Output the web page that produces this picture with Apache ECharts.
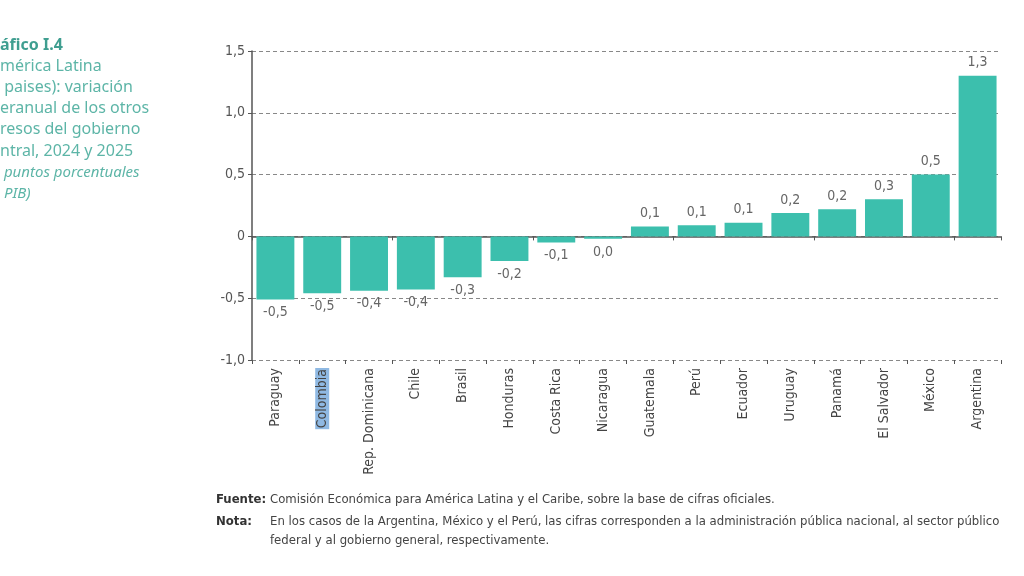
<!DOCTYPE html>
<html>
<head>
<meta charset="utf-8">
<script src="https://cdn.jsdelivr.net/npm/echarts@6/dist/echarts.min.js"></script>
<style>
  html, body { margin: 0; padding: 0; background: #fff; }
  #chart { width: 1024px; height: 576px; }
</style>
</head>
<body>
<div id="chart"></div>
<script>
  // datos
  const paises = ['Paraguay', 'Colombia', 'Rep. Dominicana', 'Chile', 'Brasil', 'Honduras', 'Costa Rica', 'Nicaragua',
    'Guatemala', 'Perú', 'Ecuador', 'Uruguay', 'Panamá', 'El Salvador', 'México', 'Argentina']
  const variacion = [-0.51, -0.46, -0.44, -0.43, -0.33, -0.2, -0.05, -0.02,
    0.08, 0.09, 0.11, 0.19, 0.22, 0.3, 0.5, 1.3]
  const yTicks = [-1.0, -0.5, 0, 0.5, 1.0, 1.5]

  const tituloLineas = ['mérica Latina', ' paises): variación', 'eranual de los otros', 'resos del gobierno', 'ntral, 2024 y 2025']
  const unidadLineas = [' puntos porcentuales', ' PIB)']

  const fmt = (v) => {
    if (v === 0) return '0'
    if (Math.abs(v) < 0.05) return '0,0'
    return v.toFixed(1).replace('.', ',')
  }

  // fuente estrecha: DejaVu Sans en su variante condensed
  const fam = '"DejaVu Sans", sans-serif'
  const cond = 'condensed'
  const chart = echarts.init(document.getElementById('chart'))

  const texts = []
  texts.push({
    type: 'text', left: 0, top: 37,
    style: { text: 'áfico I.4', font: 'bold 16px "Noto Sans", sans-serif', fill: '#3f9e90' }
  })
  tituloLineas.forEach((t, i) => {
    texts.push({
      type: 'text', left: 0, top: 58 + i * 21.3,
      style: { text: t, font: '16px "Noto Sans", sans-serif', fill: '#5db5a7' }
    })
  })
  unidadLineas.forEach((t, i) => {
    texts.push({
      type: 'text', left: 0, top: 165 + i * 21,
      style: { text: t, font: 'italic 15px "Noto Sans", sans-serif', fill: '#5db5a7' }
    })
  })
  texts.push(
    { type: 'text', left: 216, top: 493, style: { text: 'Fuente:', font: 'bold condensed 13px ' + fam, fill: '#333' } },
    { type: 'text', left: 270, top: 493, style: { text: 'Comisión Económica para América Latina y el Caribe, sobre la base de cifras oficiales.', font: 'condensed 13px ' + fam, fill: '#444' } },
    { type: 'text', left: 216, top: 515, style: { text: 'Nota:', font: 'bold condensed 13px ' + fam, fill: '#333' } },
    { type: 'text', left: 270, top: 515, style: { text: 'En los casos de la Argentina, México y el Perú, las cifras corresponden a la administración pública nacional, al sector público', font: 'condensed 13px ' + fam, fill: '#444' } },
    { type: 'text', left: 270, top: 534, style: { text: 'federal y al gobierno general, respectivamente.', font: 'condensed 13px ' + fam, fill: '#444' } }
  )

  const option = {
    animation: false,
    grid: { left: 252, right: 23, top: 51, bottom: 216 },
    graphic: texts,
    xAxis: [
      {
        type: 'category',
        data: paises,
        axisLine: { onZero: true, lineStyle: { color: '#555', width: 1.5 } },
        axisTick: { show: true, length: 4, lineStyle: { color: '#555' } },
        axisLabel: { show: false }
      },
      {
        type: 'category',
        data: paises,
        position: 'bottom',
        axisLine: { show: false, onZero: false },
        axisTick: { show: true, length: 4, lineStyle: { color: '#555' } },
        axisLabel: {
          rotate: 90,
          margin: 8,
          color: '#444',
          fontSize: 14,
          fontFamily: fam,
          fontWeight: cond,
          formatter: (v) => v === 'Colombia' ? '{sel|' + v + '}' : v,
          rich: {
            sel: { backgroundColor: '#8fb9e3', color: '#444', fontSize: 14, fontFamily: fam, fontWeight: cond, padding: [0, 1] }
          }
        }
      }
    ],
    yAxis: {
      type: 'value',
      min: yTicks[0],
      max: yTicks[yTicks.length - 1],
      interval: 0.5,
      axisLine: { show: true, lineStyle: { color: '#555', width: 1.5 } },
      axisTick: { show: true, length: 4, lineStyle: { color: '#555' } },
      axisLabel: { color: '#555', fontSize: 14, fontFamily: fam, fontWeight: cond, margin: 7, formatter: fmt },
      splitLine: { show: true, lineStyle: { type: [4, 3], color: '#888', width: 1 } }
    },
    series: [
      {
        type: 'bar',
        xAxisIndex: 0,
        data: variacion.map((v) => ({
          value: v,
          label: { position: v < 0 ? 'bottom' : 'top' }
        })),
        barCategoryGap: '19%',
        itemStyle: { color: '#3cbfad' },
        label: {
          show: true,
          distance: 6,
          color: '#666',
          fontSize: 14,
          fontFamily: fam,
          fontWeight: cond,
          formatter: (p) => fmt(p.value)
        }
      }
    ]
  }

  option && chart.setOption(option)
</script>
</body>
</html>
